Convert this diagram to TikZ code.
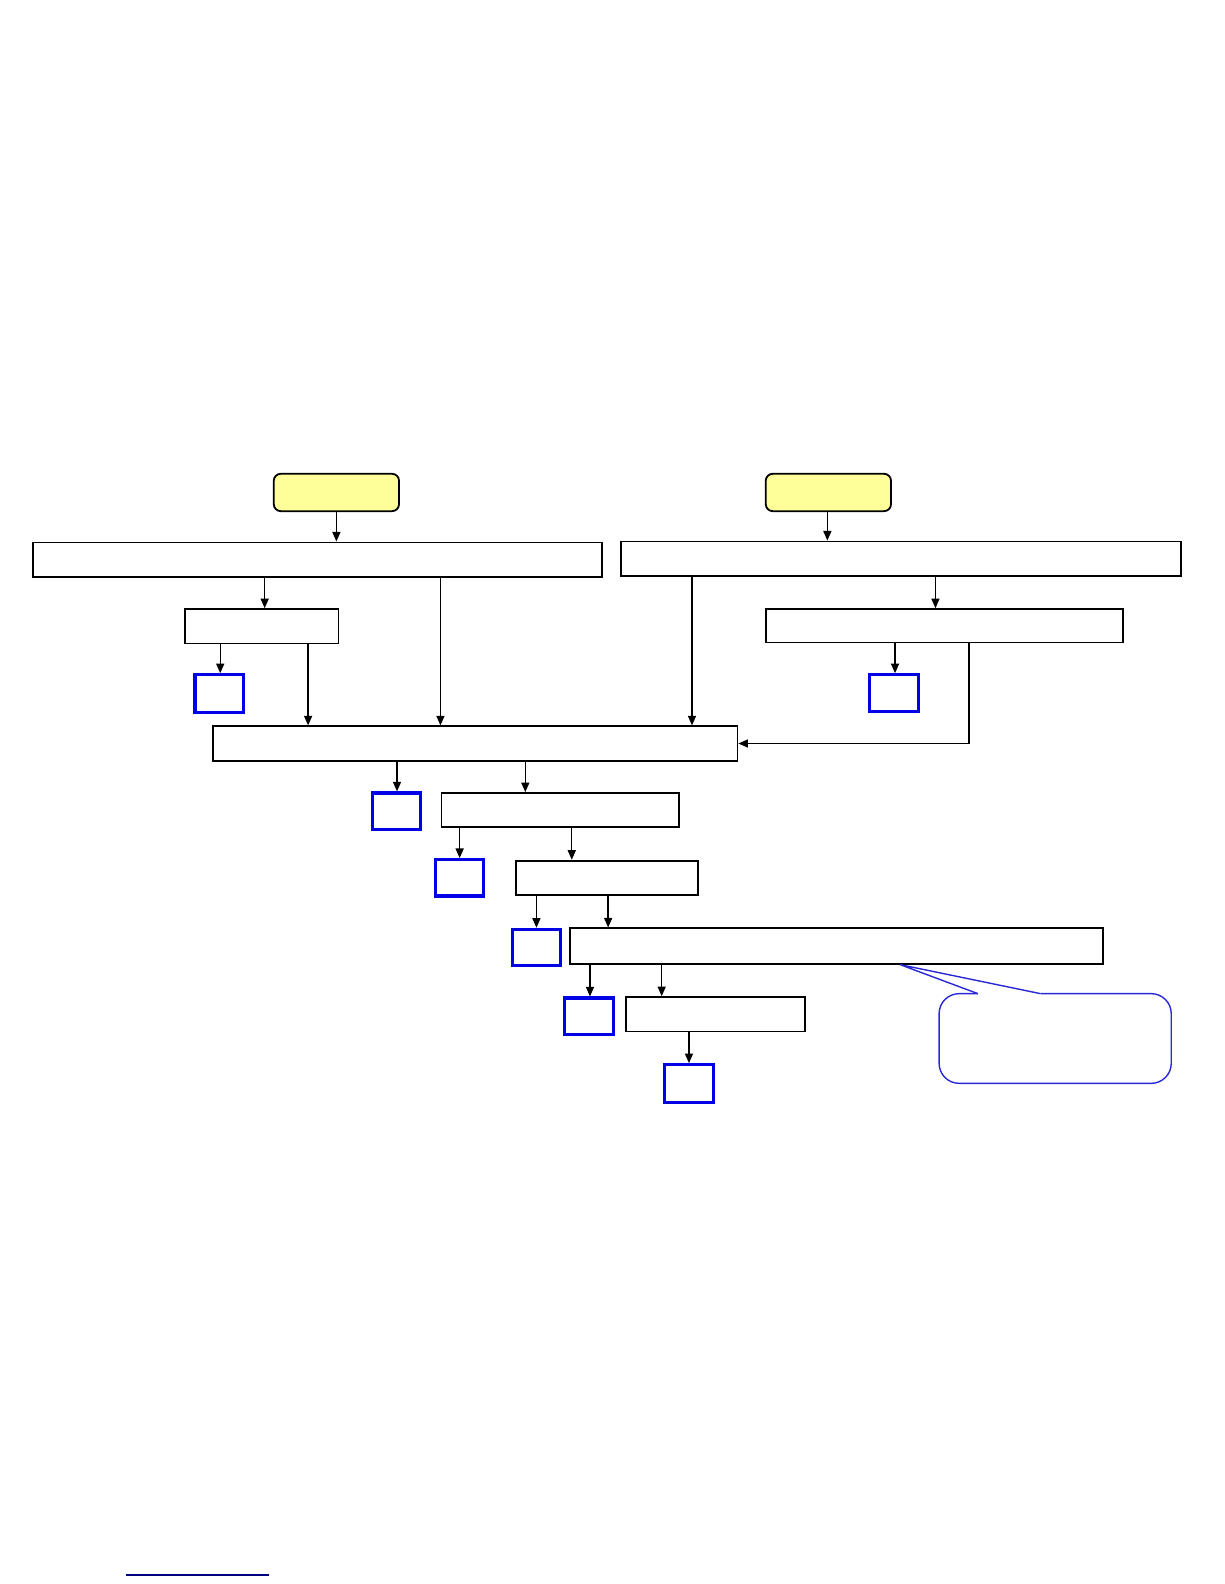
\documentclass[tikz,border=0pt]{standalone}
\usetikzlibrary{arrows.meta,fit}
\definecolor{bblue}{RGB}{0,0,230}
\definecolor{cblue}{RGB}{40,40,215}
\definecolor{startyellow}{RGB}{255,255,153}
\definecolor{navyline}{RGB}{0,0,128}
\begin{document}
\begin{tikzpicture}[x=0.50495pt,y=-0.50495pt,
  box/.style={draw=black,line width=0.9pt,inner sep=0pt,fill=white},
  bluebox/.style={draw=bblue,line width=1.6pt,inner sep=0pt,fill=white},
  startbox/.style={draw=black,line width=0.9pt,fill=startyellow,rounded corners=3.5pt,inner sep=0pt},
  arr/.style={-{Triangle[length=4.8pt,width=4pt]},line width=0.7pt,draw=black},
  callout/.style={draw=cblue,line width=0.7pt,line join=miter},
]
\useasboundingbox (0,0) rectangle (1212,1568);

% start boxes
\node[startbox,fit={(271,469)(395,506)}] (Y1) {};
\node[startbox,fit={(758,469)(882,506)}] (Y2) {};

% process boxes
\node[box,fit={(33,537)(596,571)}] (A) {};
\node[box,fit={(615,536)(1169,570)}] (B) {};
\node[box,fit={(183,603)(335,637)}] (C) {};
\node[box,fit={(758,603)(1112,636)}] (D) {};
\node[box,fit={(211,719)(730,753)}] (E) {};
\node[box,fit={(437,785)(672,819)}] (F) {};
\node[box,fit={(511,852)(691,886)}] (G) {};
\node[box,fit={(564,919)(1092,954)}] (H) {};
\node[box,fit={(620,987)(797,1021)}] (I) {};

% blue boxes
\node[bluebox,fit={(193,668)(241,705)}] (B1) {};
\node[bluebox,fit={(861,668)(909,704)}] (B2) {};
\node[bluebox,fit={(369,785)(416,821)}] (B3) {};
\node[bluebox,fit={(431,851)(479,887)}] (B4) {};
\node[bluebox,fit={(507,920)(555,956)}] (B5) {};
\node[bluebox,fit={(559,988)(607,1024)}] (B6) {};
\node[bluebox,fit={(658,1054)(706,1091)}] (B7) {};

% connectors
\draw[arr] (Y1.south -| 333,0) -- (A.north -| 333,0);
\draw[arr] (Y2.south -| 819,0) -- (B.north -| 819,0);
\draw[arr] (A.south -| 262,0) -- (C.north -| 262,0);
\draw[arr] (A.south -| 436,0) -- (E.north -| 436,0);
\draw[arr] (C.south -| 218,0) -- (B1.north -| 218,0);
\draw[arr] (C.south -| 305,0) -- (E.north -| 305,0);
\draw[arr] (B.south -| 685,0) -- (E.north -| 685,0);
\draw[arr] (B.south -| 926,0) -- (D.north -| 926,0);
\draw[arr] (D.south -| 886,0) -- (B2.north -| 886,0);
\draw[arr] (D.south -| 959,0) |- (E.east);
\draw[arr] (E.south -| 393,0) -- (B3.north -| 393,0);
\draw[arr] (E.south -| 520,0) -- (F.north -| 520,0);
\draw[arr] (F.south -| 455,0) -- (B4.north -| 455,0);
\draw[arr] (F.south -| 566,0) -- (G.north -| 566,0);
\draw[arr] (G.south -| 531,0) -- (B5.north -| 531,0);
\draw[arr] (G.south -| 602,0) -- (H.north -| 602,0);
\draw[arr] (H.south -| 584,0) -- (B6.north -| 584,0);
\draw[arr] (H.south -| 655,0) -- (I.north -| 655,0);
\draw[arr] (I.south -| 682,0) -- (B7.north -| 682,0);

% callout
\node[inner sep=0pt,fit={(930,984)(1159,1072)}] (CO) {};
\coordinate (tip) at (H.south -| 891,0);
\coordinate (pl) at (CO.north west -| 968,0);
\coordinate (pr) at (CO.north west -| 1030,0);
\draw[callout,rounded corners=10pt] (pr) -- (CO.north east) -- (CO.south east) -- (CO.south west) -- (CO.north west) -- (pl);
\draw[callout] (pl) -- (tip) -- (pr);

% bottom line
\draw[navyline,line width=1pt] (125,1559) -- (266,1559);
\end{tikzpicture}
\end{document}
